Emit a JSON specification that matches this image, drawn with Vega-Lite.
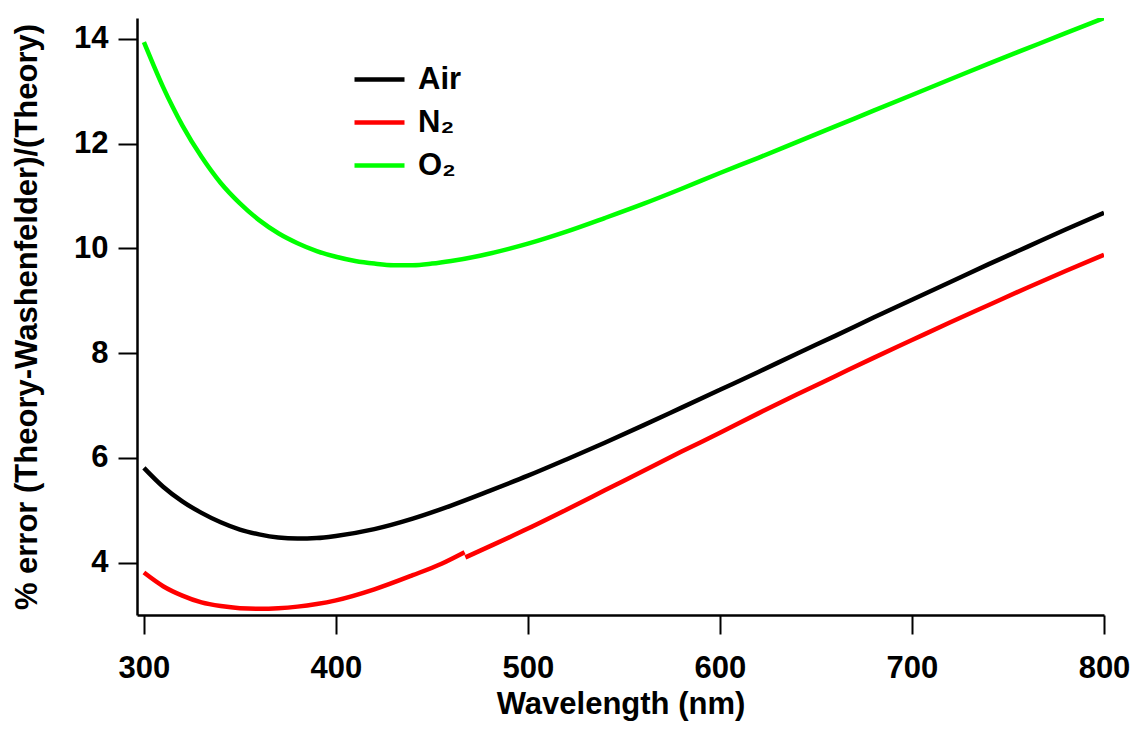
{
  "$schema": "https://vega.github.io/schema/vega-lite/v6.json",
  "autosize": "none",
  "width": 967,
  "height": 597,
  "padding": {"left": 137, "top": 18, "right": 32, "bottom": 114},
  "background": "white",
  "config": {
    "view": {"stroke": null},
    "font": "Liberation Sans",
    "axis": {
      "grid": false,
      "domainColor": "black",
      "domainWidth": 2.5,
      "tickColor": "black",
      "tickWidth": 2,
      "labelColor": "black",
      "labelFont": "Liberation Sans",
      "labelFontWeight": "bold",
      "labelFontSize": 31,
      "titleColor": "black",
      "titleFont": "Liberation Sans",
      "titleFontWeight": "bold",
      "titleFontSize": 31
    }
  },
  "data": {
    "values": [
      {"wl": 300, "v": 5.81, "s": "Air", "seg": 1},
      {"wl": 310, "v": 5.45, "s": "Air", "seg": 1},
      {"wl": 320, "v": 5.17, "s": "Air", "seg": 1},
      {"wl": 330, "v": 4.95, "s": "Air", "seg": 1},
      {"wl": 340, "v": 4.77, "s": "Air", "seg": 1},
      {"wl": 350, "v": 4.63, "s": "Air", "seg": 1},
      {"wl": 360, "v": 4.54, "s": "Air", "seg": 1},
      {"wl": 370, "v": 4.48, "s": "Air", "seg": 1},
      {"wl": 380, "v": 4.46, "s": "Air", "seg": 1},
      {"wl": 390, "v": 4.47, "s": "Air", "seg": 1},
      {"wl": 400, "v": 4.51, "s": "Air", "seg": 1},
      {"wl": 420, "v": 4.64, "s": "Air", "seg": 1},
      {"wl": 440, "v": 4.84, "s": "Air", "seg": 1},
      {"wl": 460, "v": 5.09, "s": "Air", "seg": 1},
      {"wl": 480, "v": 5.37, "s": "Air", "seg": 1},
      {"wl": 500, "v": 5.66, "s": "Air", "seg": 1},
      {"wl": 520, "v": 5.97, "s": "Air", "seg": 1},
      {"wl": 540, "v": 6.29, "s": "Air", "seg": 1},
      {"wl": 560, "v": 6.62, "s": "Air", "seg": 1},
      {"wl": 580, "v": 6.96, "s": "Air", "seg": 1},
      {"wl": 600, "v": 7.30, "s": "Air", "seg": 1},
      {"wl": 620, "v": 7.64, "s": "Air", "seg": 1},
      {"wl": 640, "v": 7.99, "s": "Air", "seg": 1},
      {"wl": 660, "v": 8.33, "s": "Air", "seg": 1},
      {"wl": 680, "v": 8.68, "s": "Air", "seg": 1},
      {"wl": 700, "v": 9.02, "s": "Air", "seg": 1},
      {"wl": 720, "v": 9.36, "s": "Air", "seg": 1},
      {"wl": 740, "v": 9.70, "s": "Air", "seg": 1},
      {"wl": 760, "v": 10.03, "s": "Air", "seg": 1},
      {"wl": 780, "v": 10.36, "s": "Air", "seg": 1},
      {"wl": 800, "v": 10.68, "s": "Air", "seg": 1},
      {"wl": 300, "v": 3.81, "s": "N₂", "seg": 1},
      {"wl": 310, "v": 3.55, "s": "N₂", "seg": 1},
      {"wl": 320, "v": 3.37, "s": "N₂", "seg": 1},
      {"wl": 330, "v": 3.24, "s": "N₂", "seg": 1},
      {"wl": 340, "v": 3.17, "s": "N₂", "seg": 1},
      {"wl": 350, "v": 3.13, "s": "N₂", "seg": 1},
      {"wl": 360, "v": 3.12, "s": "N₂", "seg": 1},
      {"wl": 370, "v": 3.13, "s": "N₂", "seg": 1},
      {"wl": 380, "v": 3.16, "s": "N₂", "seg": 1},
      {"wl": 390, "v": 3.21, "s": "N₂", "seg": 1},
      {"wl": 400, "v": 3.28, "s": "N₂", "seg": 1},
      {"wl": 420, "v": 3.49, "s": "N₂", "seg": 1},
      {"wl": 440, "v": 3.76, "s": "N₂", "seg": 1},
      {"wl": 455, "v": 3.98, "s": "N₂", "seg": 1},
      {"wl": 467, "v": 4.20, "s": "N₂", "seg": 1},
      {"wl": 467.4, "v": 4.10, "s": "N₂", "seg": 2},
      {"wl": 480, "v": 4.31, "s": "N₂", "seg": 2},
      {"wl": 500, "v": 4.65, "s": "N₂", "seg": 2},
      {"wl": 520, "v": 5.01, "s": "N₂", "seg": 2},
      {"wl": 540, "v": 5.38, "s": "N₂", "seg": 2},
      {"wl": 560, "v": 5.75, "s": "N₂", "seg": 2},
      {"wl": 580, "v": 6.12, "s": "N₂", "seg": 2},
      {"wl": 600, "v": 6.48, "s": "N₂", "seg": 2},
      {"wl": 620, "v": 6.85, "s": "N₂", "seg": 2},
      {"wl": 640, "v": 7.21, "s": "N₂", "seg": 2},
      {"wl": 660, "v": 7.56, "s": "N₂", "seg": 2},
      {"wl": 680, "v": 7.91, "s": "N₂", "seg": 2},
      {"wl": 700, "v": 8.25, "s": "N₂", "seg": 2},
      {"wl": 720, "v": 8.59, "s": "N₂", "seg": 2},
      {"wl": 740, "v": 8.92, "s": "N₂", "seg": 2},
      {"wl": 760, "v": 9.25, "s": "N₂", "seg": 2},
      {"wl": 780, "v": 9.57, "s": "N₂", "seg": 2},
      {"wl": 800, "v": 9.88, "s": "N₂", "seg": 2},
      {"wl": 300, "v": 13.94, "s": "O₂", "seg": 1},
      {"wl": 305, "v": 13.50, "s": "O₂", "seg": 1},
      {"wl": 310, "v": 13.08, "s": "O₂", "seg": 1},
      {"wl": 315, "v": 12.70, "s": "O₂", "seg": 1},
      {"wl": 320, "v": 12.35, "s": "O₂", "seg": 1},
      {"wl": 330, "v": 11.75, "s": "O₂", "seg": 1},
      {"wl": 340, "v": 11.25, "s": "O₂", "seg": 1},
      {"wl": 350, "v": 10.86, "s": "O₂", "seg": 1},
      {"wl": 360, "v": 10.54, "s": "O₂", "seg": 1},
      {"wl": 370, "v": 10.29, "s": "O₂", "seg": 1},
      {"wl": 380, "v": 10.10, "s": "O₂", "seg": 1},
      {"wl": 390, "v": 9.95, "s": "O₂", "seg": 1},
      {"wl": 400, "v": 9.84, "s": "O₂", "seg": 1},
      {"wl": 410, "v": 9.76, "s": "O₂", "seg": 1},
      {"wl": 420, "v": 9.71, "s": "O₂", "seg": 1},
      {"wl": 430, "v": 9.68, "s": "O₂", "seg": 1},
      {"wl": 440, "v": 9.68, "s": "O₂", "seg": 1},
      {"wl": 450, "v": 9.71, "s": "O₂", "seg": 1},
      {"wl": 460, "v": 9.76, "s": "O₂", "seg": 1},
      {"wl": 475, "v": 9.86, "s": "O₂", "seg": 1},
      {"wl": 490, "v": 9.99, "s": "O₂", "seg": 1},
      {"wl": 500, "v": 10.09, "s": "O₂", "seg": 1},
      {"wl": 520, "v": 10.32, "s": "O₂", "seg": 1},
      {"wl": 540, "v": 10.58, "s": "O₂", "seg": 1},
      {"wl": 560, "v": 10.85, "s": "O₂", "seg": 1},
      {"wl": 580, "v": 11.14, "s": "O₂", "seg": 1},
      {"wl": 600, "v": 11.44, "s": "O₂", "seg": 1},
      {"wl": 620, "v": 11.73, "s": "O₂", "seg": 1},
      {"wl": 640, "v": 12.03, "s": "O₂", "seg": 1},
      {"wl": 660, "v": 12.33, "s": "O₂", "seg": 1},
      {"wl": 680, "v": 12.63, "s": "O₂", "seg": 1},
      {"wl": 700, "v": 12.93, "s": "O₂", "seg": 1},
      {"wl": 720, "v": 13.23, "s": "O₂", "seg": 1},
      {"wl": 740, "v": 13.53, "s": "O₂", "seg": 1},
      {"wl": 760, "v": 13.82, "s": "O₂", "seg": 1},
      {"wl": 780, "v": 14.11, "s": "O₂", "seg": 1},
      {"wl": 800, "v": 14.40, "s": "O₂", "seg": 1}
    ]
  },
  "mark": {"type": "line", "strokeWidth": 4.5, "strokeCap": "butt", "interpolate": "monotone", "clip": true},
  "encoding": {
    "x": {
      "field": "wl",
      "type": "quantitative",
      "scale": {"domain": [296.4, 800], "nice": false, "zero": false},
      "axis": {
        "title": "Wavelength (nm)",
        "values": [300, 400, 500, 600, 700, 800],
        "tickSize": 19,
        "labelPadding": 19,
        "titlePadding": 6,
        "labelFlush": false
      }
    },
    "y": {
      "field": "v",
      "type": "quantitative",
      "scale": {"domain": [3.0, 14.4], "nice": false, "zero": false},
      "axis": {
        "title": "% error (Theory-Washenfelder)/(Theory)",
        "values": [4, 6, 8, 10, 12, 14],
        "tickSize": 19,
        "labelPadding": 10,
        "titlePadding": 30,
        "labelFlush": false
      }
    },
    "detail": {"field": "seg", "type": "nominal"},
    "color": {
      "field": "s",
      "type": "nominal",
      "scale": {"domain": ["Air", "N₂", "O₂"], "range": ["#000000", "#ff0000", "#00ff00"]},
      "legend": {
        "title": null,
        "orient": "none",
        "legendX": 215,
        "legendY": 34,
        "padding": 0,
        "symbolType": "stroke",
        "symbolSize": 2500,
        "symbolStrokeWidth": 4.5,
        "symbolOffset": 0,
        "labelFont": "Liberation Sans",
        "labelFontWeight": "bold",
        "labelFontSize": 31,
        "labelColor": "black",
        "labelOffset": 11,
        "rowPadding": -1
      }
    }
  }
}
